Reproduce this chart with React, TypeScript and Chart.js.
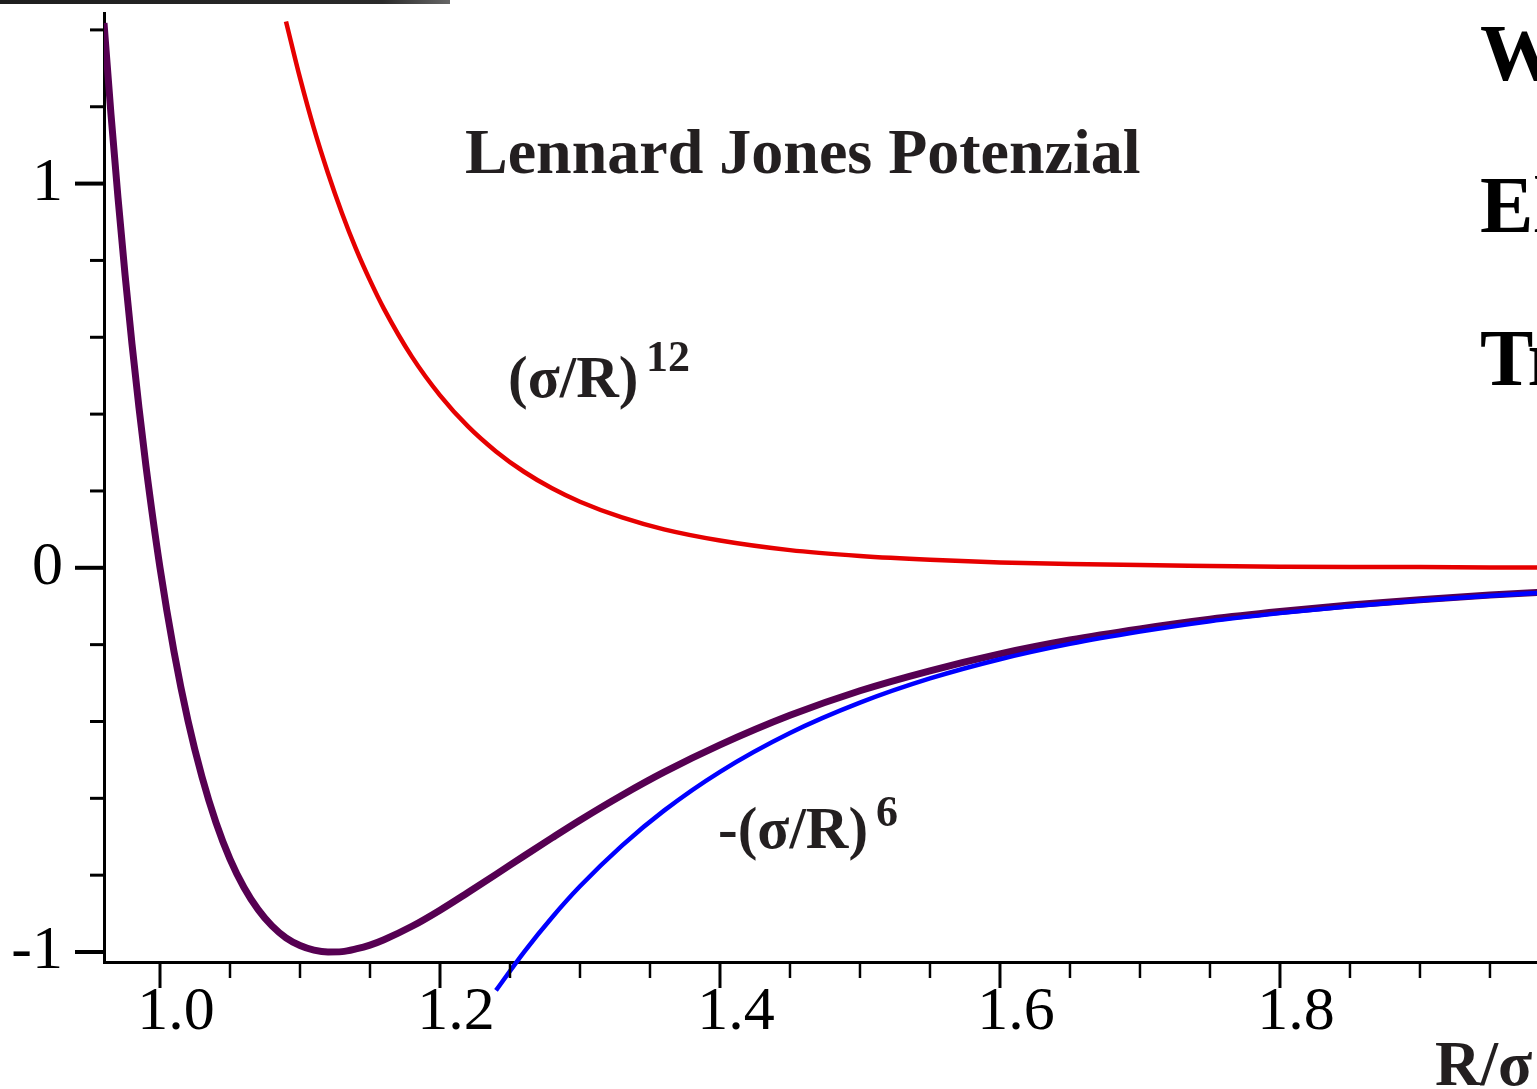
import React, { useEffect, useRef } from 'react';
import { Chart, registerables } from 'chart.js';

Chart.register(...registerables);

// ---- Data ----
// Lennard-Jones potential (sum curve)
const rSum = [0.96, 0.965, 0.97, 0.975, 0.98, 0.985, 0.99, 1.0, 1.01, 1.02, 1.03, 1.04, 1.05, 1.06, 1.07, 1.08, 1.09, 1.1, 1.11, 1.12, 1.13, 1.14, 1.15, 1.16, 1.18, 1.2, 1.22, 1.24, 1.26, 1.28, 1.3, 1.33, 1.36, 1.4, 1.45, 1.5, 1.55, 1.6, 1.65, 1.7, 1.75, 1.8, 1.85, 1.9, 1.95, 1.99];
const vSum = [1.418, 1.18, 0.963, 0.764, 0.582, 0.416, 0.264, 0.0, -0.218, -0.398, -0.544, -0.663, -0.758, -0.832, -0.889, -0.932, -0.963, -0.983, -0.995, -1.0, -0.999, -0.992, -0.982, -0.968, -0.933, -0.891, -0.845, -0.798, -0.75, -0.703, -0.657, -0.592, -0.532, -0.461, -0.384, -0.32, -0.268, -0.224, -0.188, -0.159, -0.134, -0.114, -0.097, -0.083, -0.071, -0.063];

// Repulsive term (σ/R)^12
const rRep = [1.09, 1.1, 1.11, 1.12, 1.13, 1.14, 1.15, 1.16, 1.18, 1.2, 1.22, 1.24, 1.26, 1.28, 1.3, 1.33, 1.36, 1.4, 1.45, 1.5, 1.55, 1.6, 1.65, 1.7, 1.75, 1.8, 1.85, 1.9, 1.95, 1.99];
const vRep = [1.422, 1.275, 1.143, 1.027, 0.923, 0.83, 0.748, 0.674, 0.549, 0.449, 0.368, 0.303, 0.25, 0.207, 0.172, 0.131, 0.1, 0.071, 0.046, 0.031, 0.021, 0.014, 0.01, 0.007, 0.005, 0.003, 0.002, 0.002, 0.001, 0.001];

// Attractive term -(σ/R)^6
const rAtt = [1.24, 1.26, 1.28, 1.3, 1.33, 1.36, 1.4, 1.45, 1.5, 1.55, 1.6, 1.65, 1.7, 1.75, 1.8, 1.85, 1.9, 1.95, 1.99];
const vAtt = [-1.1, -1.0, -0.91, -0.829, -0.723, -0.632, -0.531, -0.43, -0.351, -0.288, -0.238, -0.198, -0.166, -0.139, -0.118, -0.1, -0.085, -0.073, -0.064];

// Axes
const xMin = 0.96;
const xMax = 1.9836;
const yMin = -1.026;
const yMax = 1.444;
const xMajorTicks = [1.0, 1.2, 1.4, 1.6, 1.8];
const xMajorLabels = ['1.0', '1.2', '1.4', '1.6', '1.8'];
const xMinorTicks = [1.05, 1.1, 1.15, 1.25, 1.3, 1.35, 1.45, 1.5, 1.55, 1.65, 1.7, 1.75, 1.85, 1.9, 1.95];
const yMajorTicks = [-1, 0, 1];
const yMajorLabels = ['-1', '0', '1'];
const yMinorTicks = [-0.8, -0.6, -0.4, -0.2, 0.2, 0.4, 0.6, 0.8, 1.2, 1.4];

// Texts
const titleText = 'Lennard Jones Potenzial';
const repLabel = '(σ/R)';
const repSup = '12';
const attLabel = '-(σ/R)';
const attSup = '6';
const axisTitle = 'R/σ';
const sideTexts = ['W', 'El', 'Tr'];

const SERIF = "'Liberation Serif', 'Times New Roman', serif";

const toPoints = (xs: number[], ys: number[]) => xs.map((x, i) => ({ x, y: ys[i] }));

const findLabel = (v: number, ticks: number[], labels: string[]) => {
  const i = ticks.findIndex((t) => Math.abs(t - v) < 1e-6);
  return i >= 0 ? labels[i] : '';
};

const decorPlugin = {
  id: 'decor',
  afterDraw(chart: any) {
    const ctx = chart.ctx as CanvasRenderingContext2D;
    const xs = chart.scales.x;
    const ys = chart.scales.y;
    const ca = chart.chartArea;
    ctx.save();

    // top dark bar (screenshot artifact)
    const g = ctx.createLinearGradient(0, 0, 450, 0);
    g.addColorStop(0, '#1e1e1e');
    g.addColorStop(0.85, '#2a2a2a');
    g.addColorStop(1, '#666666');
    ctx.fillStyle = g;
    ctx.fillRect(0, 0, 450, 4);

    // tick marks
    ctx.strokeStyle = '#000';
    ctx.lineCap = 'butt';
    yMajorTicks.forEach((v) => {
      const p = ys.getPixelForValue(v);
      ctx.lineWidth = 4;
      ctx.beginPath();
      ctx.moveTo(ca.left - 29, p);
      ctx.lineTo(ca.left, p);
      ctx.stroke();
    });
    yMinorTicks.forEach((v) => {
      const p = ys.getPixelForValue(v);
      ctx.lineWidth = 3;
      ctx.beginPath();
      ctx.moveTo(ca.left - 14, p);
      ctx.lineTo(ca.left, p);
      ctx.stroke();
    });
    xMajorTicks.forEach((v) => {
      const p = xs.getPixelForValue(v);
      ctx.lineWidth = 3;
      ctx.beginPath();
      ctx.moveTo(p, ca.bottom);
      ctx.lineTo(p, ca.bottom + 26);
      ctx.stroke();
    });
    xMinorTicks.forEach((v) => {
      const p = xs.getPixelForValue(v);
      ctx.lineWidth = 2.5;
      ctx.beginPath();
      ctx.moveTo(p, ca.bottom);
      ctx.lineTo(p, ca.bottom + 16);
      ctx.stroke();
    });

    // texts
    ctx.textBaseline = 'alphabetic';
    ctx.textAlign = 'left';
    ctx.fillStyle = '#231f20';
    ctx.font = `bold 64px ${SERIF}`;
    ctx.fillText(titleText, 465, 173);

    ctx.font = `bold 59px ${SERIF}`;
    ctx.fillText(repLabel, 508, 397);
    ctx.fillText(attLabel, 718, 848);
    ctx.font = `bold 44px ${SERIF}`;
    ctx.fillText(repSup, 646, 371);
    ctx.fillText(attSup, 876, 826);

    ctx.font = `bold 63px ${SERIF}`;
    ctx.fillText(axisTitle, 1435, 1085);

    ctx.fillStyle = '#000';
    ctx.font = `bold 80px ${SERIF}`;
    ctx.fillText(sideTexts[0], 1480, 80);
    ctx.fillText(sideTexts[1], 1480, 232);
    ctx.fillText(sideTexts[2], 1480, 385);

    ctx.restore();
  },
};

export default function App() {
  const ref = useRef<HTMLCanvasElement>(null);

  useEffect(() => {
    if (!ref.current) return;
    const chart = new Chart(ref.current, {
      type: 'line',
      data: {
        datasets: [
          {
            label: '-(σ/R)^6',
            data: toPoints(rAtt, vAtt),
            borderColor: '#0000ff',
            borderWidth: 4.5,
            pointRadius: 0,
            cubicInterpolationMode: 'monotone',
            fill: false,
            clip: false,
          } as any,
          {
            label: 'Lennard Jones',
            data: toPoints(rSum, vSum),
            borderColor: '#560052',
            borderWidth: 7,
            pointRadius: 0,
            cubicInterpolationMode: 'monotone',
            fill: false,
          } as any,
          {
            label: '(σ/R)^12',
            data: toPoints(rRep, vRep),
            borderColor: '#e60000',
            borderWidth: 4.5,
            pointRadius: 0,
            cubicInterpolationMode: 'monotone',
            fill: false,
          } as any,
        ],
      },
      options: {
        responsive: false,
        devicePixelRatio: 1,
        animation: false,
        parsing: false as any,
        layout: { padding: { top: 13, left: 0, right: 0, bottom: 0 }, autoPadding: false } as any,
        plugins: {
          legend: { display: false },
          tooltip: { enabled: false },
        },
        scales: {
          x: {
            type: 'linear',
            position: 'bottom',
            min: xMin,
            max: xMax,
            afterFit: (s: any) => {
              s.height = 127;
              s.paddingLeft = 0;
              s.paddingRight = 0;
              s.paddingTop = 0;
              s.paddingBottom = 0;
            },
            afterBuildTicks: (s: any) => {
              s.ticks = [...xMajorTicks, ...xMinorTicks].sort((a, b) => a - b).map((v) => ({ value: v }));
            },
            ticks: {
              autoSkip: false,
              maxRotation: 0,
              minRotation: 0,
              padding: 14,
              labelOffset: 16,
              color: '#000',
              font: { family: SERIF, size: 62 },
              callback: (v: any) => findLabel(Number(v), xMajorTicks, xMajorLabels),
            },
            grid: { display: false, drawTicks: false },
            border: { display: true, color: '#000', width: 3 },
          },
          y: {
            type: 'linear',
            position: 'left',
            min: yMin,
            max: yMax,
            afterFit: (s: any) => {
              s.width = 104;
              s.paddingTop = 0;
              s.paddingBottom = 0;
              s.paddingLeft = 0;
              s.paddingRight = 0;
            },
            afterBuildTicks: (s: any) => {
              s.ticks = [...yMajorTicks, ...yMinorTicks].sort((a, b) => a - b).map((v) => ({ value: v }));
            },
            ticks: {
              autoSkip: false,
              padding: 41,
              color: '#000',
              font: { family: SERIF, size: 62 },
              callback: (v: any) => findLabel(Number(v), yMajorTicks, yMajorLabels),
            },
            grid: { display: false, drawTicks: false },
            border: { display: true, color: '#000', width: 3 },
          },
        },
      },
      plugins: [decorPlugin],
    });
    return () => chart.destroy();
  }, []);

  return (
    <div
      style={{
        position: 'fixed',
        left: 0,
        top: 0,
        width: 1537,
        height: 1089,
        overflow: 'hidden',
        background: '#ffffff',
      }}
    >
      <canvas ref={ref} width={1537} height={1089} style={{ display: 'block', width: 1537, height: 1089 }} />
    </div>
  );
}
